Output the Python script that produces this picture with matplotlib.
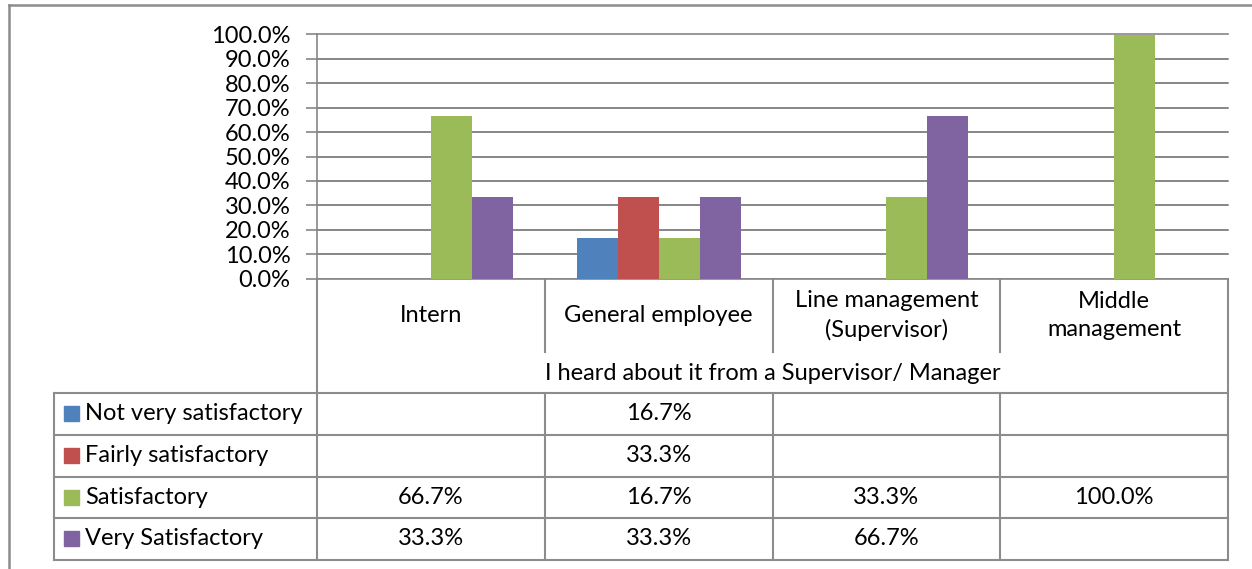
import matplotlib
matplotlib.use("Agg")
import matplotlib.pyplot as plt
import matplotlib.transforms as mtransforms
from matplotlib.patches import Rectangle
import numpy as np

plt.rcParams['font.family'] = ['Lato', 'DejaVu Sans']

categories = ["Intern", "General employee", "Line management\n(Supervisor)", "Middle\nmanagement"]
group_label = "I heard about it from a Supervisor/ Manager"
series_names = ["Not very satisfactory", "Fairly satisfactory", "Satisfactory", "Very Satisfactory"]
not_very = [None, 16.7, None, None]
fairly = [None, 33.3, None, None]
satisfactory = [66.7, 16.7, 33.3, 100.0]
very = [33.3, 33.3, 66.7, None]
series_values = [not_very, fairly, satisfactory, very]
colors = ["#4F81BD", "#C0504D", "#9BBB59", "#8064A2"]
yticks = [0, 10, 20, 30, 40, 50, 60, 70, 80, 90, 100]

W, H = 1252, 569
fig = plt.figure(figsize=(W / 100, H / 100), dpi=100)

# overlay in pixel coordinates for the data table
ov = fig.add_axes([0, 0, 1, 1])
ov.set_xlim(0, W)
ov.set_ylim(H, 0)
ov.axis("off")

fs = 17

# bar axes
x0, x1, ytop, ybot = 317, 1228, 34.5, 278.5
ax = fig.add_axes([x0 / W, 1 - ybot / H, (x1 - x0) / W, (ybot - ytop) / H])
n = len(categories)
x = np.arange(n)
bw = 0.18
for i, (vals, col) in enumerate(zip(series_values, colors)):
    v = [0 if a is None else a for a in vals]
    ax.bar(x + (i - 1.5) * bw, v, width=bw, color=col, zorder=3, linewidth=0)
ax.set_xlim(-0.5, n - 0.5)
ax.set_ylim(0, 100)
ax.set_yticks(yticks)
ax.set_yticklabels([f"{t:.1f}%" for t in yticks], fontsize=fs)
ax.tick_params(axis='y', length=8, width=1.2, color="#868686", pad=11)
ax.set_xticks([])
ax.grid(axis='y', color="#868686", linewidth=1.2, zorder=0)
for s in ["top", "right", "bottom"]:
    ax.spines[s].set_visible(False)
ax.spines["left"].set_color("#868686")
ax.spines["left"].set_linewidth(1.2)
for t in yticks:
    ax.plot([-0.5, n - 0.5], [t, t], color="#868686", lw=1.2, zorder=1, clip_on=False)

# blended transform: x from bar axes data, y from pixel overlay
bt = mtransforms.blended_transform_factory(ax.transData, ov.transData)
lc = "#8c8c8c"
lw = 1.5

# table geometry (pixels)
y_hdr_bot = 352
y_rows = [393, 434.5, 476.5, 518, 559.5]
leg_left = 54

# outer chart border
ov.plot([9, 1251], [5, 5], color=lc, lw=1.8)
ov.plot([9, 9], [5, H], color=lc, lw=1.8)

# category header vertical lines
for b in np.arange(-0.5, n, 1.0):
    if b == -0.5 or b == n - 0.5:
        ov.plot([b, b], [ybot, y_rows[-1]], color=lc, lw=lw, transform=bt)
    else:
        ov.plot([b, b], [ybot, y_hdr_bot], color=lc, lw=lw, transform=bt)
        ov.plot([b, b], [y_rows[0], y_rows[-1]], color=lc, lw=lw, transform=bt)

# horizontal row lines
for yr in y_rows:
    ov.plot([leg_left, x1], [yr, yr], color=lc, lw=lw)
ov.plot([leg_left, leg_left], [y_rows[0], y_rows[-1]], color=lc, lw=lw)

# category labels
for i, c in enumerate(categories):
    ov.text(i, 315.5, c, transform=bt, ha="center", va="center", fontsize=fs, linespacing=1.45)
ov.text((n - 1) / 2, 373, group_label, transform=bt, ha="center", va="center", fontsize=fs)

# rows
for r, (name, vals, col) in enumerate(zip(series_names, series_values, colors)):
    yc = (y_rows[r] + y_rows[r + 1]) / 2
    ov.add_patch(Rectangle((64, yc - 7.5), 15, 15, color=col))
    ov.text(85, yc, name, ha="left", va="center", fontsize=fs)
    for i, v in enumerate(vals):
        if v is not None:
            ov.text(i, yc, f"{v:.1f}%", transform=bt, ha="center", va="center", fontsize=fs)

fig.savefig("out.png", dpi=100)
